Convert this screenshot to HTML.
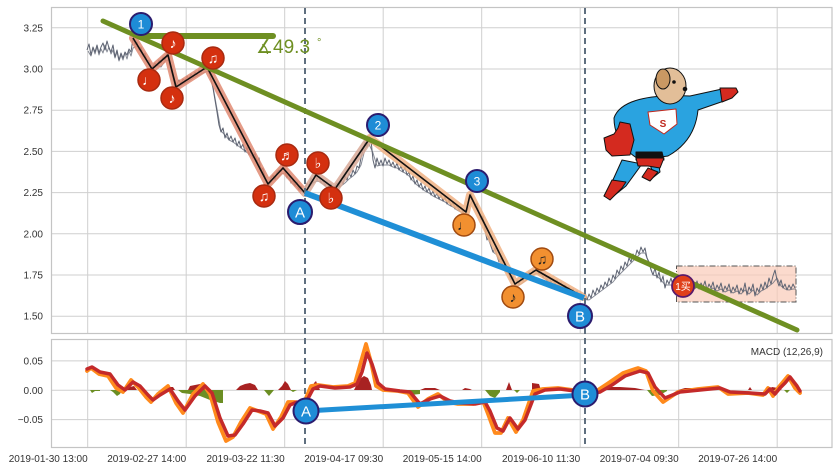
<!DOCTYPE html>
<html><head><meta charset="utf-8"><style>
html,body{margin:0;padding:0;background:#fff;}
svg{display:block;}
text{font-family:"Liberation Sans","DejaVu Sans",sans-serif;}
</style></head><body>
<svg width="839" height="471" viewBox="0 0 839 471" xmlns="http://www.w3.org/2000/svg">
<rect width="839" height="471" fill="#fff"/>
<!-- grids main -->
<g stroke="#cfcfcf" stroke-width="1" fill="none">
<path d="M51.5,27.8H832M51.5,69H832M51.5,110.2H832M51.5,151.4H832M51.5,192.6H832M51.5,233.8H832M51.5,275H832M51.5,316.2H832"/>
<path d="M87.7,7.5V333.5M186.2,7.5V333.5M284.7,7.5V333.5M383.2,7.5V333.5M481.7,7.5V333.5M580.2,7.5V333.5M678.7,7.5V333.5M777.2,7.5V333.5"/>
<path d="M51.5,360.9H832M51.5,390.3H832M51.5,419.6H832"/>
<path d="M87.7,339.5V447.5M186.2,339.5V447.5M284.7,339.5V447.5M383.2,339.5V447.5M481.7,339.5V447.5M580.2,339.5V447.5M678.7,339.5V447.5M777.2,339.5V447.5"/>
</g>
<rect x="51.5" y="7.5" width="780.5" height="326" fill="none" stroke="#c4c4c4" stroke-width="1.2"/>
<rect x="51.5" y="339.5" width="780.5" height="108" fill="none" stroke="#c4c4c4" stroke-width="1.2"/>
<!-- y labels -->
<g font-size="10" fill="#333" text-anchor="end">
<text x="43" y="31.3">3.25</text><text x="43" y="72.5">3.00</text><text x="43" y="113.7">2.75</text><text x="43" y="154.9">2.50</text><text x="43" y="196.1">2.25</text><text x="43" y="237.3">2.00</text><text x="43" y="278.5">1.75</text><text x="43" y="319.7">1.50</text>
<text x="43" y="364.4">0.05</text><text x="43" y="393.8">0.00</text><text x="43" y="423.1">−0.05</text>
</g>
<g font-size="10" fill="#333" text-anchor="end">
<text x="87.7" y="462">2019-01-30 13:00</text><text x="186.2" y="462">2019-02-27 14:00</text><text x="284.7" y="462">2019-03-22 11:30</text><text x="383.2" y="462">2019-04-17 09:30</text><text x="481.7" y="462">2019-05-15 14:00</text><text x="580.2" y="462">2019-06-10 11:30</text><text x="678.7" y="462">2019-07-04 09:30</text><text x="777.2" y="462">2019-07-26 14:00</text>
</g>
<text x="823" y="355" font-size="10" fill="#333" text-anchor="end">MACD (12,26,9)</text>

<!-- pink box -->
<rect x="676.5" y="266" width="119.5" height="36" fill="#f9cbb8" fill-opacity="0.7" stroke="#555" stroke-width="1" stroke-dasharray="6,2,1,2"/>

<!-- price -->
<g fill="none" stroke="#5d6372" stroke-width="1" stroke-linejoin="round">
<polyline points="87,50 89,44 91,55 93,47 95,52 97,45 99,53 101,47 103,43 105,50 107,41 109,48 111,52 113,45 115,57 117,50 119,60 121,53 123,58 125,52 127,55 129,49 131,52 133,38 135,45 137,42 139,50 141,47 143,56 145,53 147,62 149,60 151,68 153,66 155,63 157,66 159,60 161,63 163,57 165,60 167,53 169,62 171,70 173,78 175,86 177,84 179,80 181,84 183,79 185,81 187,76 189,79 191,74 193,77 195,72 197,75 199,70 201,72 203,68 205,70 207,65 209,72 211,80 213,88 215,100 217,112 219,125 221,132 223,128 225,138 227,133 229,140 231,136 233,142 235,138 237,146 239,141 241,148 243,144 245,152 247,147 249,155 251,150 253,158 255,153 257,162 259,158 261,170 263,168 265,178 267,182 269,183 271,178 273,175 275,180 277,172 279,170 281,172 283,166 285,172 287,178 289,174 291,183 293,180 295,186 297,182 299,190 301,186 303,193 305,190 307,183 309,186 311,178 313,182 315,174 317,180 319,176 321,183 323,180 325,186 327,182 329,187 331,184 333,189 335,186 337,183 339,187 341,180 343,184 345,176 347,180 349,173 351,177 353,170 355,174 357,166 359,168 361,158 363,150 365,142 367,147 369,136 371,140 373,160 375,168 377,158 379,165 381,160 383,166 385,158 387,164 389,160 391,166 393,162 395,168 397,163 399,170 401,166 403,172 405,167 407,175 409,172 411,180 413,176 415,184 417,180 419,187 421,183 423,190 425,186 427,192 429,188 431,195 433,191 435,197 437,193 439,199 441,195 443,201 445,197 447,204 449,200 451,206 453,202 455,209 457,205 459,211 461,207 463,213 465,210 467,212 469,196 471,193 473,200 475,207 477,203 479,213 481,220 483,216 485,230 487,240 489,236 491,246 493,252 495,248 497,256 499,262 501,258 503,266 505,270 507,267 509,275 511,280 513,276 515,286 517,280 519,284 521,278 523,281 525,275 527,278 529,272 531,275 533,270 535,272 537,268 539,274 541,271 543,278 545,274 547,281 549,276 551,283 553,279 555,285 557,280 559,287 561,283 563,289 565,285 567,291 569,287 571,293 573,289 575,295 577,291 579,297 581,293 583,299 585,292 587,300 589,294 591,298 593,290 595,295 597,288 599,292 601,285 603,289 605,282 607,286 609,278 611,283 613,275 615,279 617,270 619,274 621,266 623,270 625,262 627,266 629,258 631,262 633,254 635,258 637,250 639,254 641,247 643,252 645,248 647,258 649,262 651,270 653,275 655,268 657,278 659,272 661,282 663,276 665,288 667,280 669,284 671,278 673,286 675,280 677,288 679,282 681,290 683,284 685,280 687,288 689,282 691,290 693,284 695,288 697,281 699,289 701,283 703,287 705,281 707,290 709,284 711,288 713,282 715,291 717,285 719,289 721,283 723,292 725,286 727,290 729,284 731,293 733,287 735,291 737,285 739,294 741,288 743,292 745,283 747,295 749,287 751,291 753,284 755,296 757,288 759,292 761,284 763,290 765,282 767,288 769,278 771,284 773,276 775,270 777,280 779,286 781,280 783,288 785,284 787,290 789,285 791,289 793,284 795,288"/>
<polyline opacity="0.75" transform="translate(1,3)" points="87,48 90,53 92,45 94,51 96,44 98,52 100,46 102,50 104,42 106,49 108,44 110,51 112,47 114,55 116,49 118,58 120,52 122,57 124,50 126,56 128,48 130,53 132,45 136,43 140,49 144,55 148,61 152,66 156,62 160,64 164,58 168,57 172,72 176,84 180,82 184,80 188,78 192,75 196,73 200,71 204,69 208,68 212,84 216,106 220,128 224,132 228,137 232,139 236,142 240,145 244,148 248,151 252,154 256,158 260,165 264,175 268,182 272,176 276,176 280,171 284,170 288,176 292,181 296,184 300,188 304,191 308,184 312,180 316,178 320,179 324,183 328,185 332,186 336,185 340,183 344,180 348,176 352,173 356,169 360,162 364,146 368,141 372,150 376,163 380,162 384,162 388,162 392,164 396,165 400,168 404,170 408,173 412,178 416,182 420,185 424,188 428,190 432,193 436,195 440,197 444,199 448,202 452,204 456,207 460,209 464,211 468,204 472,197 476,205 480,216 484,223 488,238 492,249 496,252 500,260 504,268 508,271 512,278 516,283 520,281 524,278 528,275 532,272 536,270 540,272 544,276 548,278 552,281 556,282 560,285 564,287 568,289 572,291 576,293 580,295 584,296 588,297 592,294 596,291 600,288 604,285 608,282 612,279 616,274 620,270 624,266 628,262 632,258 636,254 640,250 644,250 648,260 652,272 656,273 660,277 664,282 668,282 672,282 676,284 680,286 684,282 688,285 692,287 696,284 700,286 704,284 708,287 712,285 716,288 720,286 724,289 728,287 732,290 736,288 740,291 744,287 748,291 752,287 756,292 760,288 764,286 768,283 772,280 776,275 780,283 784,286 788,287 792,286 795,286"/>
</g>

<!-- halo -->
<g fill="none" stroke-width="8" stroke-linejoin="round" stroke-linecap="round" opacity="0.85">
<polyline stroke="#e08a72" points="133,38 152,69 168,55 176,87 207,67 268,184 283,168 305,193"/>
<polyline stroke="#d9aa98" points="305,193 316,175 335,189 370,138"/>
<polyline stroke="#f0b184" points="370,138 466,212 470,195 515,284 536,270 583,297"/>
</g>
<polyline fill="none" stroke="#111" stroke-width="1.6" stroke-linejoin="round" points="133,38 152,69 168,55 176,87 207,67 268,184 283,168 305,193 316,175 335,189 370,138 466,212 470,195 515,284 536,270 583,297"/>

<!-- dashed verticals -->
<g stroke="#5f6f7f" stroke-width="2" stroke-dasharray="6,4">
<line x1="305" y1="8" x2="305" y2="447"/>
<line x1="585" y1="8" x2="585" y2="447"/>
</g>

<!-- trend lines -->
<line x1="103" y1="21" x2="797" y2="330" stroke="#6e8f22" stroke-width="5" stroke-linecap="round"/>
<line x1="140" y1="36" x2="273" y2="36" stroke="#6e8f22" stroke-width="6" stroke-linecap="round"/>
<line x1="305" y1="193" x2="584" y2="298" stroke="#1f8fd6" stroke-width="6"/>
<text x="256" y="53" font-size="19" fill="#6e8f22" font-family="DejaVu Sans, sans-serif">∡49.3</text>
<text x="317" y="46" font-size="11" fill="#6e8f22">°</text>

<!-- MACD histogram -->
<g fill="#6b8e23">
<path d="M90,390 L92,393 L95,391 L100,391 L100,390Z"/>
<path d="M110,390 L113,392 L117,396 L120,394 L122,390Z"/>
<path d="M178,390 L182,393 L190,394 L200,396 L210,400 L220,403 L223,403 L223,390Z"/>
<path d="M264,390 L269,396 L274,390Z"/>
<path d="M290,390 L293,392 L297,390Z"/>
<path d="M406,390 L410,395 L420,394 L420,390Z"/>
<path d="M485,390 L490,396 L495,398 L500,392 L500,390Z"/>
<path d="M514,390 L517,393 L520,390Z"/>
<path d="M647,390 L652,396 L660,395 L667,391 L667,390Z"/>
<path d="M784,390 L787,393 L790,390Z"/>
</g>
<g fill="#a82222">
<path d="M127,390 L130,387 L134,386 L137,390Z"/>
<path d="M165,390 L168,387 L173,387 L175,390Z"/>
<path d="M188,390 L190,386 L195,385 L200,384 L205,386 L207,390Z"/>
<path d="M236,390 L240,386 L245,384 L250,383 L255,385 L258,390Z"/>
<path d="M278,390 L282,386 L285,381 L288,384 L291,390Z"/>
<path d="M312,390 L314,383 L316,381 L318,386 L320,390Z"/>
<path d="M354,390 L357,384 L360,379 L364,376 L368,378 L371,385 L372,390Z"/>
<path d="M420,390 L425,388 L435,388 L440,390Z"/>
<path d="M462,390 L465,388 L470,389 L472,390Z"/>
<path d="M506,390 L509,382 L512,390Z"/>
<path d="M532,390 L532,383 L539,384 L541,390Z"/>
<rect x="545" y="389" width="4" height="1.5"/><rect x="553" y="389" width="4" height="1.5"/><rect x="561" y="389" width="4" height="1.5"/><rect x="569" y="389" width="4" height="1.5"/>
<path d="M598,390 L605,387 L620,387 L635,388 L645,390Z"/>
<path d="M678,390 L685,388 L700,388 L702,390Z"/>
<path d="M748,390 L750,387 L752,390Z"/>
<path d="M768,390 L772,387 L778,388 L782,390Z"/>
</g>
<!-- MACD lines -->
<polyline fill="none" stroke="#ff8a1c" stroke-width="3.8" stroke-linejoin="round" stroke-linecap="round" points="87,371 91,368 99,374 108,376 116,388 123,392 131,380 138,387 146,397 151,402 158,394 168,386 176,403 183,413 193,394 203,384 210,394 218,422 226,441 233,437 241,422 250,408 258,411 266,414 273,429 281,417 288,402 295,402 301,410 311,386 318,385 333,387 348,386 355,383 360,365 366,344 371,362 376,386 383,390 398,391 408,393 418,407 428,399 438,394 448,402 458,404 473,404 483,401 488,414 495,433 501,433 508,418 516,432 523,420 533,391 543,389 558,388 573,390 583,394 598,390 610,382 623,373 638,368 646,371 653,391 663,402 678,392 698,389 718,387 728,394 748,393 763,395 768,388 773,396 778,388 783,382 788,376 795,388 800,393"/>
<polyline fill="none" stroke="#c42a2a" stroke-width="3.5" stroke-linejoin="round" stroke-linecap="round" points="87,369 92,367 100,372 110,374 118,385 125,390 133,382 140,386 148,395 153,400 160,395 170,389 178,401 185,410 195,396 205,386 212,393 220,418 228,436 235,435 243,424 252,410 260,411 268,413 275,426 283,418 290,405 297,402 303,408 313,389 320,386 335,388 350,387 357,384 362,372 367,353 372,364 378,383 385,389 400,391 410,392 420,404 430,399 440,396 450,401 460,403 475,404 485,402 490,411 497,428 503,431 510,418 518,429 525,420 535,394 545,390 560,389 575,391 585,395 600,392 612,385 625,376 640,371 648,373 655,387 665,398 680,392 700,390 720,388 730,392 750,393 765,394 770,389 775,394 780,388 785,383 790,377 797,386 800,391"/>
<line x1="306" y1="411" x2="585" y2="395" stroke="#1f8fd6" stroke-width="5"/>

<!-- red markers -->
<g stroke="#a82a10" stroke-width="1.5" fill="#d4300f">
<circle cx="149" cy="80" r="11"/><circle cx="173" cy="43" r="11"/><circle cx="172" cy="98" r="11"/><circle cx="213" cy="58" r="11"/>
<circle cx="287" cy="155" r="11"/><circle cx="264" cy="196" r="11"/><circle cx="318" cy="163" r="11"/><circle cx="331" cy="198" r="11"/>
</g>
<g stroke="#a04a10" stroke-width="1.5" fill="#f29030">
<circle cx="464" cy="225" r="11"/><circle cx="513" cy="297" r="11"/><circle cx="542" cy="259" r="11"/>
</g>
<g fill="#fff" font-size="14" text-anchor="middle" font-family="DejaVu Sans, sans-serif">
<text x="149" y="85">♩</text><text x="173" y="48">♪</text><text x="172" y="103">♪</text><text x="213" y="63">♫</text>
<text x="287" y="160">♬</text><text x="264" y="201">♫</text><text x="318" y="168">♭</text><text x="331" y="203">♭</text>
</g>
<g fill="#222" font-size="14" text-anchor="middle" font-family="DejaVu Sans, sans-serif">
<text x="464" y="230">♩</text><text x="513" y="302">♪</text><text x="542" y="264">♫</text>
</g>
<circle cx="683" cy="286" r="11" fill="#e0401a" stroke="#5a1a6a" stroke-width="1.8"/>
<text x="683" y="290" font-size="10" fill="#fff" text-anchor="middle" font-family="Liberation Sans, Noto Sans CJK SC, sans-serif">1买</text>

<!-- blue markers -->
<g fill="#1e8cd6" stroke="#2b1c6e" stroke-width="2">
<circle cx="141" cy="24" r="11"/><circle cx="378" cy="125" r="11"/><circle cx="477" cy="181" r="11"/>
<circle cx="300" cy="212" r="12"/><circle cx="580" cy="316" r="12"/>
<circle cx="306" cy="411" r="12.5"/><circle cx="585" cy="394" r="12.5"/>
</g>
<g fill="#fff" text-anchor="middle">
<text x="141" y="28.5" font-size="12">1</text><text x="378" y="129.5" font-size="12">2</text><text x="477" y="185.5" font-size="12">3</text>
<text x="300" y="217.5" font-size="15">A</text><text x="580" y="321.5" font-size="15">B</text>
<text x="306" y="416.5" font-size="15">A</text><text x="585" y="399.5" font-size="15">B</text>
</g>

<!-- superhero dog -->
<g stroke="#111" stroke-width="1" stroke-linejoin="round">
<path d="M622,160 L612,182 L604,196 L610,199 L626,186 L642,164Z" fill="#2aa3e0"/>
<path d="M612,180 L604,196 L610,200 L622,188 L626,182Z" fill="#d42a1f"/>
<path d="M648,160 L652,170 L644,176 L650,180 L660,172 L658,160Z" fill="#2aa3e0"/>
<path d="M648,168 L642,177 L650,181 L658,172Z" fill="#d42a1f"/>
<path d="M614,118 C620,100 650,94 690,96 L722,89 L724,101 L698,110 C696,130 686,146 668,156 L640,160 C626,152 614,138 614,118Z" fill="#2aa3e0"/>
<path d="M636,152 L662,152 L664,160 L636,160Z" fill="#111"/>
<path d="M636,158 L664,158 L660,168 L648,166 L638,166Z" fill="#d42a1f"/>
<path d="M620,122 L630,124 L634,140 L630,155 L612,156 L606,150 L604,138 L614,134 L618,128Z" fill="#d42a1f"/>
<path d="M720,88 L736,88 L738,92 L732,98 L722,102Z" fill="#d42a1f"/>
<path d="M648,112 L676,109 L677,124 L664,134 L650,125Z" fill="#fff" stroke="#c0281e"/>
<ellipse cx="670" cy="86" rx="16" ry="18" fill="#e2be98"/>
<ellipse cx="663" cy="79" rx="7" ry="10" fill="#c99863"/>
<circle cx="674" cy="82" r="1.3" fill="#111"/>
<circle cx="685" cy="89" r="1.8" fill="#111"/>
</g>
<text x="663" y="127" font-size="10" font-weight="bold" fill="#c0281e" text-anchor="middle">S</text>
</svg>
</body></html>
